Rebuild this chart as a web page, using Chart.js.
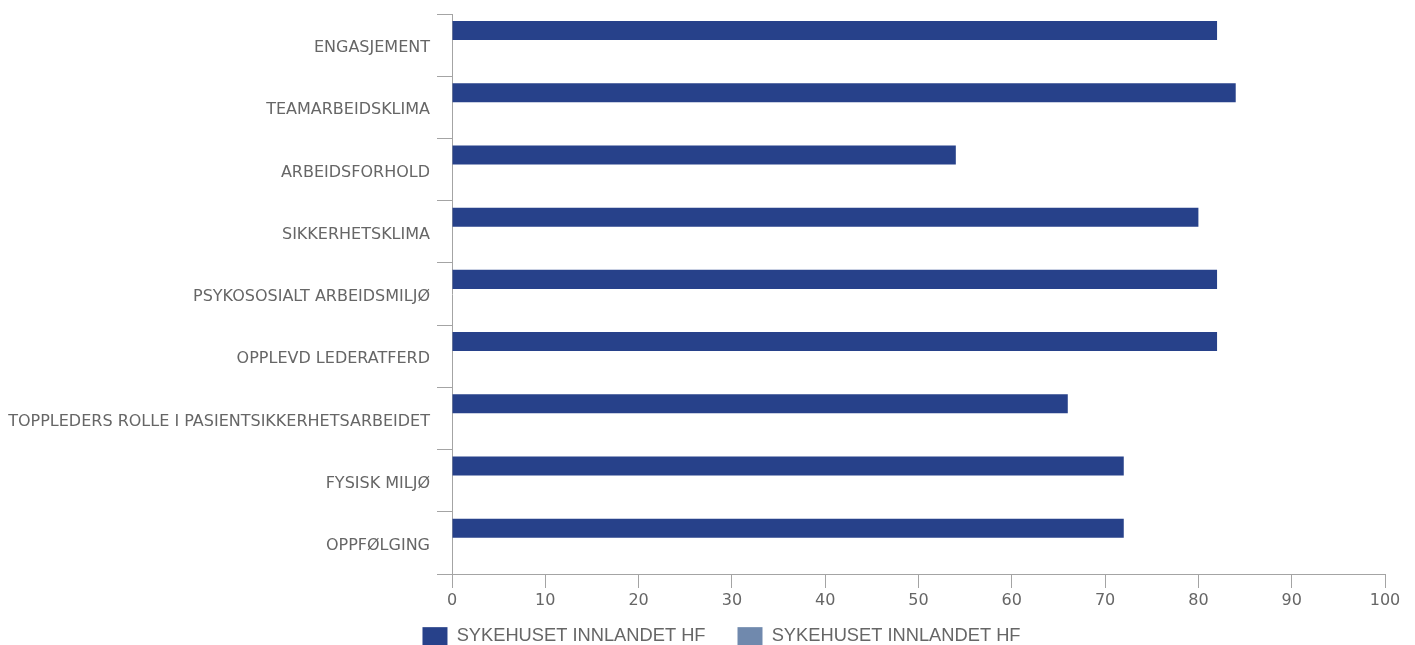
<!DOCTYPE html>
<html>
<head>
<meta charset="utf-8">
<script src="https://cdn.jsdelivr.net/npm/chart.js@4"></script>
<style>
  html, body { margin: 0; padding: 0; background: #fff; }
  .chart-container { position: relative; width: 1415px; height: 645px; }
</style>
</head>
<body>
<div class="chart-container">
  <canvas id="myChart"></canvas>
</div>
<script>
const categories = [
  'ENGASJEMENT',
  'TEAMARBEIDSKLIMA',
  'ARBEIDSFORHOLD',
  'SIKKERHETSKLIMA',
  'PSYKOSOSIALT ARBEIDSMILJØ',
  'OPPLEVD LEDERATFERD',
  'TOPPLEDERS ROLLE I PASIENTSIKKERHETSARBEIDET',
  'FYSISK MILJØ',
  'OPPFØLGING'
];
const seriesNames = ['SYKEHUSET INNLANDET HF', 'SYKEHUSET INNLANDET HF'];
const hospitalValues = [82, 84, 54, 80, 82, 82, 66, 72, 72];
// second series has no bars drawn in the picture
const compareValues = [null, null, null, null, null, null, null, null, null];
const xMin = 0;
const xMax = 100;
const xStep = 10;

const axisGrey = '#a4a4a4';
const textGrey = '#666666';

// move the legend to where the original has it
const legendShift = {
  id: 'legendShift',
  afterLayout(chart) {
    const lg = chart.legend;
    if (!lg) return;
    lg.left += 29;
    lg.right += 29;
    lg.top -= 13;
  }
};

const chartConfig = {
  type: 'bar',
  data: {
    labels: categories,
    datasets: [{
      label: seriesNames[0],
      data: hospitalValues,
      backgroundColor: '#27418a',
      categoryPercentage: 0.94,
      barPercentage: 0.65
    }, {
      label: seriesNames[1],
      data: compareValues,
      backgroundColor: '#7089ad',
      categoryPercentage: 0.94,
      barPercentage: 0.65
    }]
  },
  options: {
    indexAxis: 'y',
    responsive: true,
    maintainAspectRatio: false,
    animation: false,
    layout: {
      padding: { top: 14, right: 30, left: 0, bottom: 0 }
    },
    plugins: {
      tooltip: { enabled: false },
      legend: {
        position: 'bottom',
        maxHeight: 37,
        labels: {
          boxWidth: 25,
          boxHeight: 18,
          padding: 32,
          color: textGrey,
          font: { family: '"Liberation Sans", Arial, sans-serif', size: 18.3 }
        }
      }
    },
    scales: {
      x: {
        min: xMin,
        max: xMax,
        ticks: {
          stepSize: xStep,
          color: textGrey,
          padding: 3,
          font: { family: '"DejaVu Sans", sans-serif', size: 16 }
        },
        grid: {
          drawOnChartArea: false,
          tickLength: 14,
          color: axisGrey
        },
        border: { color: axisGrey, width: 1 },
        afterFit: function(scale) {
          scale.height = 34;
        }
      },
      y: {
        ticks: {
          color: textGrey,
          padding: 7,
          labelOffset: 3,
          font: { family: '"DejaVu Sans", sans-serif', size: 16 }
        },
        grid: {
          offset: true,
          drawOnChartArea: false,
          tickLength: 15,
          color: axisGrey
        },
        border: { color: axisGrey, width: 1 },
        afterFit: function(scale) {
          scale.width = 452;
          scale.paddingTop = 0;
          scale.paddingBottom = 0;
        }
      }
    }
  },
  plugins: [legendShift]
};

const myChart = new Chart(document.getElementById('myChart').getContext('2d'), chartConfig);
</script>
</body>
</html>
